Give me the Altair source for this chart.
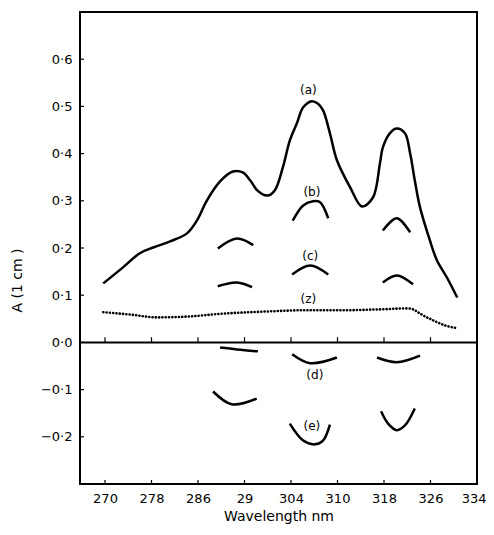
import altair as alt
import pandas as pd

# ---- curve (a)
a_x = [269.7, 273.1, 276.0, 278.3, 281.2, 284.1, 285.8, 287.5, 289.8, 292.0, 293.7, 295.0, 296.2,
       297.9, 299.2, 300.6, 301.8, 303.0, 304.1, 305.6, 306.6, 307.5, 308.7, 309.9, 312.2, 314.2,
       316.1, 317.3, 317.8, 319.0, 320.2, 321.6, 322.5, 323.3, 324.2, 325.9, 327.1, 328.8, 330.6]
a_y = [0.125, 0.159, 0.189, 0.201, 0.214, 0.231, 0.258, 0.300, 0.341, 0.362, 0.360, 0.343, 0.322,
       0.311, 0.322, 0.371, 0.428, 0.464, 0.498, 0.511, 0.506, 0.492, 0.443, 0.386, 0.328, 0.288,
       0.307, 0.379, 0.413, 0.443, 0.453, 0.443, 0.400, 0.343, 0.286, 0.216, 0.174, 0.138, 0.095]

# ---- curve (z), dotted
z_x = [269.7, 274.3, 278.9, 284.6, 290.3, 294.9, 298.9, 303.5, 310.4, 317.3, 322.0, 323.0, 324.2,
       326.4, 328.5, 330.6]
z_y = [0.064, 0.059, 0.053, 0.055, 0.061, 0.064, 0.066, 0.068, 0.068, 0.070, 0.072, 0.070, 0.061,
       0.047, 0.036, 0.030]

# ---- short arcs: (series, segment, xs, ys)
arcs = [
    ("b", "b1", [289.4, 292.7, 295.5], [0.199, 0.220, 0.206]),
    ("b", "b2", [302.3, 304.1, 305.8, 307.0, 308.4], [0.258, 0.290, 0.299, 0.297, 0.263]),
    ("b", "b3", [317.8, 320.2, 322.5], [0.237, 0.263, 0.233]),
    ("c", "c1", [289.4, 292.7, 295.3], [0.119, 0.127, 0.117]),
    ("c", "c2", [302.2, 305.3, 308.4], [0.144, 0.163, 0.144]),
    ("c", "c3", [317.8, 320.2, 323.0], [0.127, 0.142, 0.123]),
    ("d", "d1", [289.8, 292.7, 296.3], [-0.011, -0.015, -0.019]),
    ("d", "d2", [302.2, 305.3, 309.9], [-0.025, -0.044, -0.032]),
    ("d", "d3", [316.8, 320.2, 324.2], [-0.032, -0.042, -0.028]),
    ("e", "e1", [288.6, 291.8, 296.1], [-0.104, -0.131, -0.119]),
    ("e", "e2", [301.8, 304.1, 306.1, 307.5, 308.7], [-0.172, -0.208, -0.216, -0.208, -0.174]),
    ("e", "e3", [317.5, 318.7, 320.2, 321.6, 323.3], [-0.146, -0.172, -0.186, -0.176, -0.140]),
]

# ---- curve labels
lab_text = ["(a)", "(b)", "(c)", "(z)", "(d)", "(e)"]
lab_x = [305.0, 305.6, 305.3, 305.0, 306.1, 305.6]
lab_y = [0.534, 0.318, 0.184, 0.093, -0.070, -0.178]

# ---- axes
x_ticks = [270, 278, 286, 294, 302, 310, 318, 326, 334]
x_tick_labels = ["270", "278", "286", "29", "304", "310", "318", "326", "334"]
y_ticks = [-0.2, -0.1, 0.0, 0.1, 0.2, 0.3, 0.4, 0.5, 0.6]
x_dom = [265.7, 334]
y_dom = [-0.3, 0.7]

W, H = 397, 472
FONT = "DejaVu Sans"

xs = alt.Scale(domain=x_dom, nice=False, zero=False)
ys = alt.Scale(domain=y_dom, nice=False, zero=False)

label_map = "{" + ",".join(f"'{v}':'{t}'" for v, t in zip(x_ticks, x_tick_labels)) + "}"

df_a = pd.DataFrame({"x": a_x, "y": a_y})
df_z = pd.DataFrame({"x": z_x, "y": z_y})
rows = []
for s, seg, xx, yy in arcs:
    for i, (u, v) in enumerate(zip(xx, yy)):
        rows.append({"series": s, "seg": seg, "i": i, "x": u, "y": v})
df_arcs = pd.DataFrame(rows)
df_lab = pd.DataFrame({"t": lab_text, "x": lab_x, "y": lab_y})
df_xt = pd.DataFrame({"x": x_ticks[:-1]})
df_yt = pd.DataFrame({"y": y_ticks})

X = alt.X("x:Q", scale=xs, title="Wavelength  nm",
          axis=alt.Axis(values=x_ticks, labelExpr=f"{label_map}[''+datum.value]",
                        tickSize=0, domain=False, grid=False, labelPadding=8,
                        labelFont=FONT, labelFontSize=13, labelColor="black",
                        titleFont=FONT, titleFontSize=14, titleFontWeight="normal",
                        titleColor="black", titlePadding=4,
                        labelFlush=True, labelFlushOffset=9))
Y = alt.Y("y:Q", scale=ys, title="A (1 cm )",
          axis=alt.Axis(values=y_ticks,
                        labelExpr="replace(format(datum.value, '.1f'), '.', '·')",
                        tickSize=0, domain=False, grid=False, labelPadding=8,
                        labelFont=FONT, labelFontSize=13, labelColor="black",
                        titleFont=FONT, titleFontSize=14, titleFontWeight="normal",
                        titleColor="black", titleX=-63, titleY=268,
                        titleBaseline="middle", titleAlign="center", titleAngle=270))

line_a = alt.Chart(df_a).mark_line(color="black", strokeWidth=2.5, interpolate="catmull-rom").encode(
    x=X, y=Y, order="x:Q")
line_z = alt.Chart(df_z).mark_line(color="black", strokeWidth=2.6, strokeDash=[0.1, 3.2],
                                   strokeCap="round", interpolate="monotone").encode(
    x=alt.X("x:Q", scale=xs), y=alt.Y("y:Q", scale=ys))
arc_lines = alt.Chart(df_arcs).mark_line(color="black", strokeWidth=2.5, interpolate="catmull-rom").encode(
    x=alt.X("x:Q", scale=xs), y=alt.Y("y:Q", scale=ys), detail="seg:N", order="i:Q")
labels = alt.Chart(df_lab).mark_text(font=FONT, fontSize=12, color="black").encode(
    x=alt.X("x:Q", scale=xs), y=alt.Y("y:Q", scale=ys), text="t:N")

zero_line = alt.Chart(pd.DataFrame({"y": [0.0]})).mark_rule(color="black", strokeWidth=2).encode(
    y=alt.Y("y:Q", scale=ys), x=alt.value(0), x2=alt.value(W))
zero_ticks = alt.Chart(df_xt).mark_rule(color="black", strokeWidth=1.2).encode(
    x=alt.X("x:Q", scale=xs), y=alt.datum(0.0, scale=ys), y2=alt.datum(0.011))
bottom_ticks = alt.Chart(df_xt).mark_rule(color="black", strokeWidth=1.2).encode(
    x=alt.X("x:Q", scale=xs), y=alt.value(H), y2=alt.value(H - 4))
left_ticks = alt.Chart(df_yt).mark_rule(color="black", strokeWidth=1.2).encode(
    y=alt.Y("y:Q", scale=ys), x=alt.value(0), x2=alt.value(4))

chart = alt.layer(line_a, line_z, arc_lines, labels, zero_line, zero_ticks, bottom_ticks,
                  left_ticks).properties(
    width=W, height=H, autosize=alt.AutoSizeParams(type="none"),
    padding={"left": 72, "top": 4, "right": 9, "bottom": 43},
    background="white",
).configure_view(stroke="black", strokeWidth=2)

chart.save("out.html", embed_options={"renderer": "svg", "actions": False})
